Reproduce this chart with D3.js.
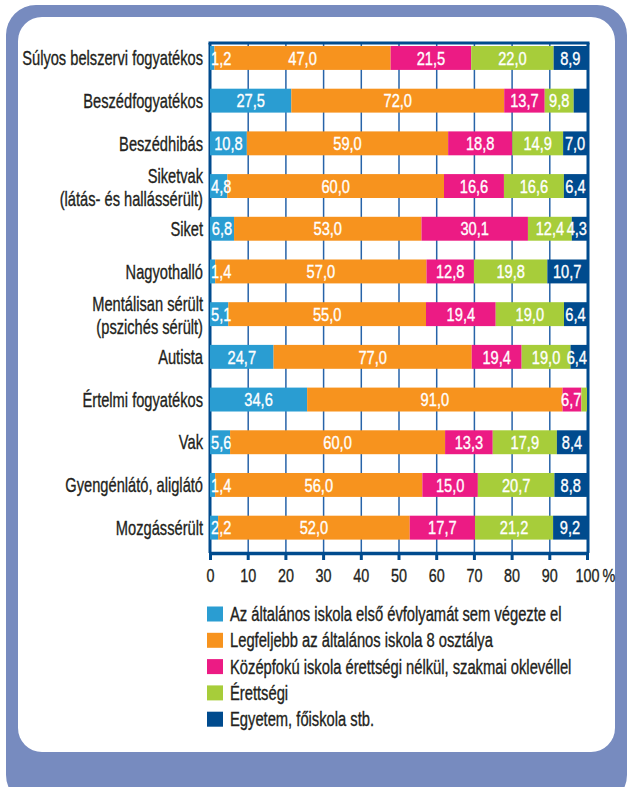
<!DOCTYPE html>
<html><head><meta charset="utf-8">
<script src="https://cdn.jsdelivr.net/npm/d3@7"></script>
<style>
html,body{margin:0;padding:0;background:#fff;}
text{font-family:"Liberation Sans",Arial,sans-serif;}
</style></head>
<body>
<svg id="chart" width="628" height="787"></svg>
<script>
// ---------- data ----------
const categories = [
  "Súlyos belszervi fogyatékos",
  "Beszédfogyatékos",
  "Beszédhibás",
  "Siketvak\n(látás- és hallássérült)",
  "Siket",
  "Nagyothalló",
  "Mentálisan sérült\n(pszichés sérült)",
  "Autista",
  "Értelmi fogyatékos",
  "Vak",
  "Gyengénlátó, aliglátó",
  "Mozgássérült"
];
const seriesNames = [
  "Az általános iskola első évfolyamát sem végezte el",
  "Legfeljebb az általános iskola 8 osztálya",
  "Középfokú iskola érettségi nélkül, szakmai oklevéllel",
  "Érettségi",
  "Egyetem, főiskola stb."
];
const elsoNelkul  = [1.2, 27.5, 10.8, 4.8, 6.8, 1.4, 5.1, 24.7, 34.6, 5.6, 1.4, 2.2];
const altalanos8  = [47.0, 72.0, 59.0, 60.0, 53.0, 57.0, 55.0, 77.0, 91.0, 60.0, 56.0, 52.0];
const szakmai     = [21.5, 13.7, 18.8, 16.6, 30.1, 12.8, 19.4, 19.4, 6.7, 13.3, 15.0, 17.7];
const erettsegi   = [22.0, 9.8, 14.9, 16.6, 12.4, 19.8, 19.0, 19.0, 2.0, 17.9, 20.7, 21.2];
const egyetem     = [8.9, 4.5, 7.0, 6.4, 4.3, 10.7, 6.4, 6.4, 0.0, 8.4, 8.8, 9.2];
// segments printed without a value label in the original (category, series index)
const unlabeled = [["Beszédfogyatékos", 4], ["Értelmi fogyatékos", 3], ["Értelmi fogyatékos", 4]];
const tickValues = [0, 10, 20, 30, 40, 50, 60, 70, 80, 90, 100];
const colors = ["#2a9dd2", "#f7931e", "#ec1b84", "#a7cd3a", "#004b8e"];

// ---------- build ----------
const seriesArrays = [elsoNelkul, altalanos8, szakmai, erettsegi, egyetem];
const keys = seriesNames;
const rows = categories.map((c, i) => {
  const r = {cat: c};
  keys.forEach((k, j) => r[k] = seriesArrays[j][i]);
  return r;
});
const stacked = d3.stack().keys(keys).offset(d3.stackOffsetExpand)(rows);

const svg = d3.select("#chart");

// condensed look: horizontal compression factors fitted to the reference's text widths
function fitK(str, fs, target) {
  const p = svg.append("text").attr("font-size", fs).text(str);
  const k = target / p.node().getComputedTextLength();
  p.remove();
  return k;
}
const S = {
  cat: {fs: 20, k: fitK("Súlyos belszervi fogyatékos", 20, 181)},
  leg: {fs: 19.5, k: fitK("Az általános iskola első évfolyamát sem végezte el", 19.5, 332)},
  val: {fs: 18.5, k: fitK("47,0", 18.5, 28.5)},
  tick: {fs: 19, k: fitK("10", 19, 16)}
};

// frame
svg.append("rect").attr("x", 6).attr("y", 5).attr("width", 621).attr("height", 800)
  .attr("rx", 30).attr("fill", "#778bbf");
svg.append("rect").attr("x", 18).attr("y", 17).attr("width", 597).attr("height", 735)
  .attr("rx", 24).attr("fill", "#ffffff");

const x = d3.scaleLinear().domain([0, 1]).range([210, 587]);
const y = d3.scaleBand().domain(categories).range([36.6, 549]).paddingInner(0.44).paddingOuter(0.22);
const plotTop = 43, axisY = 553;
const ink = "#231f20", frameCol = "#004b8e";

function ctext(g, str, px, py, anchor, fill, st) {
  return g.append("text").text(str)
    .attr("transform", `translate(${px},${py}) scale(${st.k},1)`)
    .attr("dy", "0.36em").attr("text-anchor", anchor)
    .attr("fill", fill).attr("stroke", fill).attr("stroke-width", 0.35)
    .attr("font-size", st.fs);
}

// gridlines
svg.append("g").attr("transform", `translate(0,${axisY})`)
  .call(d3.axisBottom(x).tickValues(tickValues.slice(1, -1).map(d => d / 100)).tickSize(-(axisY - plotTop)).tickFormat(""))
  .call(g => g.select(".domain").remove())
  .call(g => g.selectAll("line").attr("stroke", "#2763a8").attr("stroke-width", 1.5));

// frame lines of plot
svg.append("line").attr("x1", x(0) - 1.5).attr("x2", x(1) + 2.5).attr("y1", plotTop).attr("y2", plotTop)
  .attr("stroke", frameCol).attr("stroke-width", 3);
svg.append("line").attr("x1", x(0)).attr("x2", x(0)).attr("y1", plotTop).attr("y2", axisY)
  .attr("stroke", frameCol).attr("stroke-width", 3);
svg.append("line").attr("x1", x(1) + 1).attr("x2", x(1) + 1).attr("y1", plotTop).attr("y2", axisY)
  .attr("stroke", frameCol).attr("stroke-width", 3);

// bars
const layer = svg.append("g").selectAll("g").data(stacked).join("g")
  .attr("fill", (d, i) => colors[i]);
layer.selectAll("rect").data(d => d).join("rect")
  .attr("x", d => x(d[0]))
  .attr("width", d => Math.max(0, x(d[1]) - x(d[0])))
  .attr("y", d => y(d.data.cat))
  .attr("height", y.bandwidth());

// value labels
const fmt = v => d3.format(".1f")(v).replace(".", ",");
const labG = svg.append("g");
stacked.forEach((s, si) => {
  s.forEach(d => {
    const cat = d.data.cat;
    const v = d.data[s.key];
    if (unlabeled.some(u => u[0] === cat.split("\n")[0] && u[1] === si)) return;
    if (!(v > 0)) return;
    const x0 = x(d[0]), x1 = x(d[1]);
    const cyy = y(cat) + y.bandwidth() / 2;
    const t = ctext(labG, fmt(v), 0, cyy, "middle", "#ffffff", S.val);
    const w = t.node().getComputedTextLength() * S.val.k;
    const lo = x0 + w / 2, hi = x1 - w / 2;
    let cx = (x0 + x1) / 2;
    if (lo <= hi) cx = Math.min(Math.max(cx, lo), hi);
    else cx = si === 0 ? lo + 1 : hi;
    t.attr("transform", `translate(${cx},${cyy}) scale(${S.val.k},1)`);
  });
});

// category labels
const catG = svg.append("g");
categories.forEach(c => {
  const lines = c.split("\n");
  const cy = y(c) + y.bandwidth() / 2;
  const offs = lines.length === 1 ? [0] : [-10, 13];
  lines.forEach((ln, i) => ctext(catG, ln, 203, cy + offs[i], "end", ink, S.cat));
});

// x axis
const ax = svg.append("g").attr("transform", `translate(0,${axisY})`)
  .call(d3.axisBottom(x).tickValues(tickValues.map(d => d / 100)).tickSize(7).tickSizeOuter(0).tickPadding(9)
    .tickFormat(d => String(Math.round(d * 100))));
ax.attr("font-family", null).attr("font-size", null);
ax.select(".domain").attr("stroke", frameCol).attr("stroke-width", 3.5);
ax.selectAll(".tick line").attr("stroke", frameCol).attr("stroke-width", 3);
ax.selectAll(".tick text").attr("fill", ink).attr("stroke", ink).attr("stroke-width", 0.35)
  .attr("font-size", S.tick.fs).attr("transform", `scale(${S.tick.k},1)`);
ax.selectAll(".tick").filter(d => d === 1).append("text")
  .text("%").attr("x", 15 / S.tick.k).attr("y", 16).attr("dy", "0.71em")
  .attr("fill", ink).attr("stroke", ink).attr("stroke-width", 0.35).attr("font-size", S.tick.fs)
  .attr("text-anchor", "start").attr("transform", `scale(${S.tick.k},1)`);

// legend
const lg = svg.append("g");
seriesNames.forEach((n, i) => {
  const cy = 614 + i * 26.3;
  lg.append("rect").attr("x", 207).attr("y", cy - 7.5).attr("width", 16).attr("height", 15).attr("fill", colors[i]);
  ctext(lg, n, 230, cy, "start", ink, S.leg);
});
</script>
</body></html>
